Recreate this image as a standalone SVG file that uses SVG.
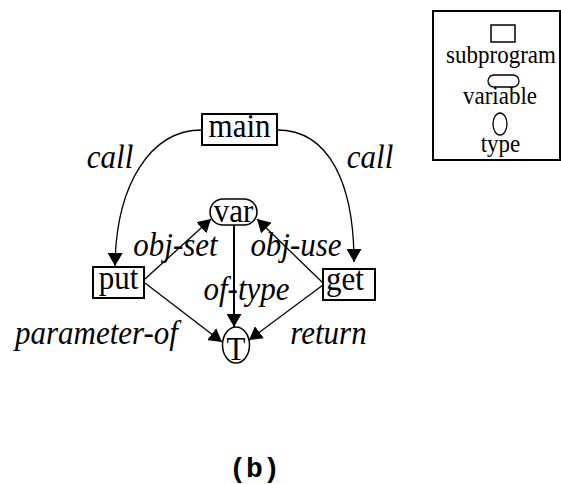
<svg xmlns="http://www.w3.org/2000/svg" width="561" height="484" viewBox="0 0 561 484">
  <style>
    .box { fill: #fff; stroke: #000; stroke-width: 2; }
    .txt { font-family: "Liberation Serif", "Times New Roman", serif; fill: #000; text-anchor: middle; }
    .lbl { font-size: 31px; }
    .it { font-size: 31px; font-style: italic; }
    .leg { font-size: 23px; }
    .edge { fill: none; stroke: #000; stroke-width: 1.3; marker-end: url(#arrow); }
    .cap { font-family: "Liberation Mono", "Courier New", monospace; font-size: 28px; font-weight: bold; text-anchor: middle; fill: #000; }
  </style>
  <defs>
    <marker id="arrow" markerUnits="userSpaceOnUse" viewBox="0 0 13 15" refX="13" refY="7.5" markerWidth="13" markerHeight="15" orient="auto">
      <path d="M0,0 L13,7.5 L0,15 z" fill="#000"/>
    </marker>
  </defs>

  <rect width="561" height="484" fill="#fff"/>

  <!-- connectors -->
  <g id="edges">
    <path class="edge" d="M202,130 C150,130 116,185 115,266"/>
    <path class="edge" d="M277,130 C330,130 354,185 354,262"/>
    <path class="edge" d="M145,279 L211,219"/>
    <path class="edge" d="M323,283 L257,219"/>
    <path class="edge" d="M145,283 L222,342"/>
    <path class="edge" d="M323,285 L249,340"/>
    <path class="edge" style="stroke-width:2" d="M234,225 L234,327"/>
  </g>

  <!-- edge labels (glyphs slightly stretched vertically) -->
  <g id="edge-labels">
    <text class="txt it" transform="translate(110,168) scale(1,1.12)">call</text>
    <text class="txt it" transform="translate(370,168) scale(1,1.12)">call</text>
    <text class="txt it" transform="translate(175.5,256) scale(1,1.12)">obj-set</text>
    <text class="txt it" transform="translate(296,256) scale(1,1.12)">obj-use</text>
    <text class="txt it" transform="translate(246.5,300) scale(1,1.12)">of-type</text>
    <text class="txt it" transform="translate(96.5,344) scale(1,1.12)">parameter-of</text>
    <text class="txt it" transform="translate(328.5,344) scale(1,1.12)">return</text>
  </g>

  <g id="main">
    <rect class="box" x="202" y="114" width="75" height="31"/>
    <text class="txt lbl" transform="translate(239.5,137) scale(1,1.12)">main</text>
  </g>
  <g id="var">
    <rect class="box" style="stroke-width:1.5" x="210" y="199" width="47" height="26" rx="13" ry="13"/>
    <text class="txt lbl" transform="translate(233.5,222) scale(1,1.12)">var</text>
  </g>
  <g id="put">
    <rect class="box" x="93" y="267" width="51" height="31"/>
    <text class="txt lbl" transform="translate(118.5,289) scale(1,1.12)">put</text>
  </g>
  <g id="get">
    <rect class="box" x="323" y="269" width="52" height="31"/>
    <text class="txt lbl" transform="translate(345,290) scale(1,1.12)">get</text>
  </g>
  <g id="T">
    <ellipse class="box" style="stroke-width:1.5" cx="236" cy="345" rx="13.5" ry="18"/>
    <text class="txt lbl" transform="translate(236,360) scale(1,1.12)">T</text>
  </g>

  <!-- legend -->
  <g id="legend">
    <rect class="box" x="433" y="11" width="127" height="149"/>
    <rect class="box" style="stroke-width:1.5" x="491" y="25" width="24" height="17"/>
    <text class="txt leg" transform="translate(501,63) scale(1,1.12)">subprogram</text>
    <rect class="box" style="stroke-width:1.3" x="488" y="75" width="31" height="12" rx="6" ry="6"/>
    <text class="txt leg" transform="translate(500,104) scale(1,1.12)">variable</text>
    <ellipse class="box" style="stroke-width:1.3" cx="500" cy="124" rx="7" ry="11"/>
    <text class="txt leg" transform="translate(500.5,152) scale(1,1.12)">type</text>
  </g>

  <text class="cap" x="254.5" y="477">(b)</text>
</svg>
